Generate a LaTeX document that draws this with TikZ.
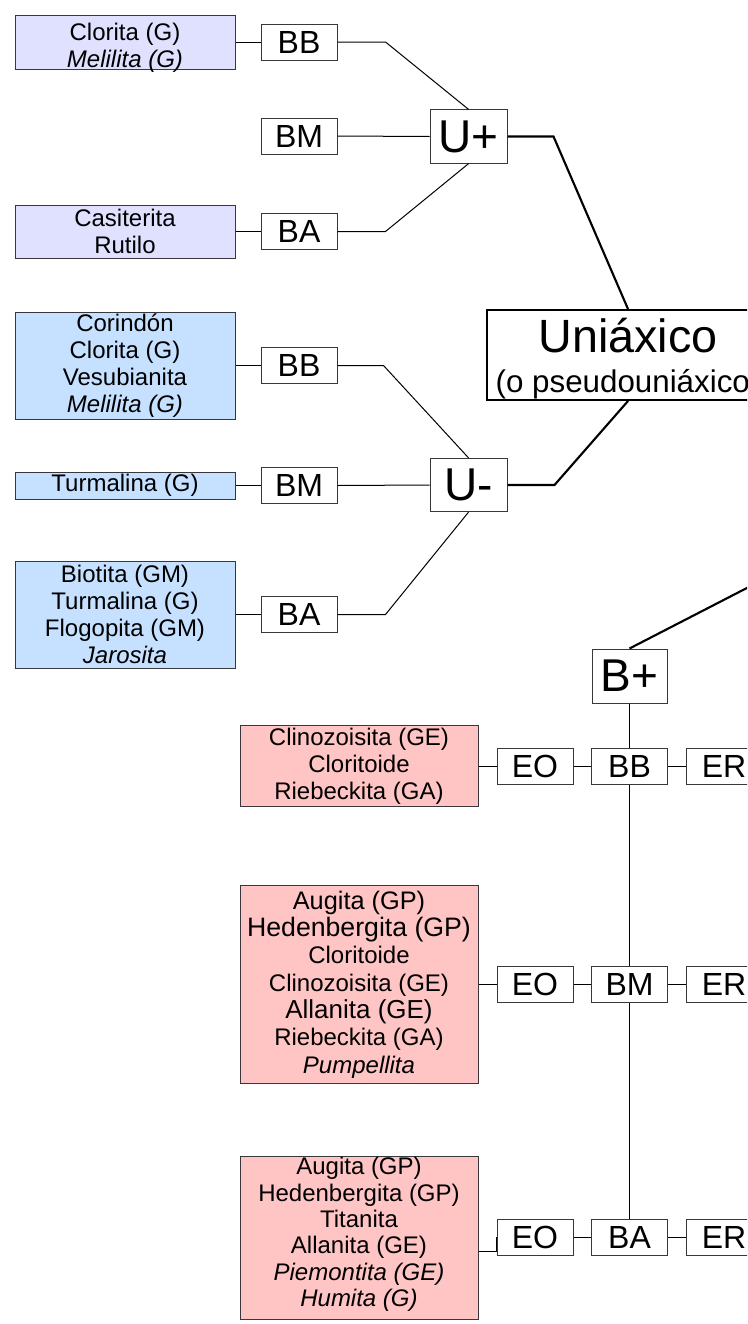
\documentclass[tikz,border=0pt]{standalone}
\usepackage{fontspec}
\setmainfont{Liberation Sans}
\newcommand\myfs[2]{\fontsize{#1}{#2}\selectfont}
\definecolor{lavc}{RGB}{224,224,255}
\definecolor{bluc}{RGB}{198,225,255}
\definecolor{pnkc}{RGB}{255,196,196}
\definecolor{bordc}{RGB}{55,55,60}
\tikzset{
  mbox/.style={draw=bordc, line width=0.75pt, inner sep=0pt, align=center},
  lav/.style={mbox, fill=lavc, minimum width=165pt, font=\myfs{18}{20.25}},
  blu/.style={mbox, fill=bluc, minimum width=165pt, font=\myfs{18}{20.25}},
  pnk/.style={mbox, fill=pnkc, minimum width=178.5pt, font=\myfs{18}{20.25}},
  boxtext/.style={inner sep=0pt, align=center, font=\myfs{18}{20.25}},
  lab/.style={mbox, fill=white, minimum width=57pt, minimum height=27pt, font=\myfs{24}{26}},
  ubox/.style={mbox, fill=white, minimum width=57.75pt, minimum height=40pt, font=\myfs{34.5}{36}},
  unibox/.style={draw=black, line width=1.5pt, fill=white, inner sep=0pt, minimum width=211.5pt, minimum height=67.5pt},
  thinl/.style={draw=black, line width=0.75pt},
  thickl/.style={draw=black, line width=1.6pt}
}
\begin{document}
\begin{tikzpicture}[x=0.75pt,y=-0.75pt]
\useasboundingbox (0,0) rectangle (747,1324);
\clip (0,0) rectangle (747,1324);

% ---- U+ group
\node[lav, minimum height=40.5pt,
  label={[boxtext, name=lav1t, yshift=-4pt]center:{Clorita (G)\\\textit{Melilita (G)}}}] (lav1) at (125,42) {};
\node[lav, minimum height=39.75pt] (lav2) at (125,231.5) {Casiterita\\Rutilo};
\node[lab] (bb1) at (299,42) {BB};
\node[lab] (bm1) at (299,136) {BM};
\node[lab] (ba1) at (299,231.5) {BA};
\node[ubox] (up) at (468.5,136.5) {U+};

% ---- Uniaxico
\node[unibox] (uni) at (628,355) {};
\node[anchor=base, inner sep=0pt, font=\myfs{35}{40}] (unit) at (628,352) {Uniáxico};
\node[anchor=base, inner sep=0pt, font=\myfs{23.5}{26}] (unis) at (628,392) {(o pseudouniáxico)};

% ---- U- group
\node[blu, minimum height=80.25pt] (blu1) at (125,365.5) {Corindón\\Clorita (G)\\Vesubianita\\\textit{Melilita (G)}};
\node[blu, minimum height=20.25pt] (blu2) at (125,485.5) {Turmalina (G)};
\node[blu, minimum height=80.25pt] (blu3) at (125,614.5) {Biotita (GM)\\Turmalina (G)\\Flogopita (GM)\\\textit{Jarosita}};
\node[lab] (bb2) at (299,365.5) {BB};
\node[lab] (bm2) at (299,485.5) {BM};
\node[lab] (ba2) at (299,614.5) {BA};
\node[ubox] (um) at (468.5,485) {U-};

% ---- B+ group
\node[ubox, minimum width=56.25pt, minimum height=40.5pt] (bp) at (629.5,676) {B+};
\coordinate (bi) at (800,560.6);

\node[pnk, minimum height=60.75pt] (pk1) at (359,766) {Clinozoisita (GE)\\Cloritoide\\Riebeckita (GA)};
\node[lab] (eo1) at (535,766) {EO};
\node[lab] (bb3) at (629.5,766) {BB};
\node[lab] (er1) at (724,766) {ER};

\node[pnk, minimum height=148.5pt, font=\myfs{18}{20.5}] (pk2) at (359,984.5)
  {{\myfs{19}{20.5}Augita (GP)}\\{\myfs{20}{20.5}Hedenbergita (GP)}\\Cloritoide\\Clinozoisita (GE)\\{\myfs{19.5}{20.5}Allanita (GE)}\\Riebeckita (GA)\\\textit{Pumpellita}};
\node[lab] (eo2) at (535,984.5) {EO};
\node[lab] (bm3) at (629.5,984.5) {BM};
\node[lab] (er2) at (724,984.5) {ER};

\node[pnk, minimum height=122.25pt,
  label={[boxtext, name=pk3t, yshift=2.2pt, font=\myfs{18}{19.75}]center:{Augita (GP)\\Hedenbergita (GP)\\Titanita\\Allanita (GE)\\\textit{Piemontita (GE)}\\\textit{Humita (G)}}}] (pk3) at (359,1237.5) {};
\node[lab] (eo3) at (535,1237) {EO};
\node[lab] (ba3) at (629.5,1237) {BA};
\node[lab] (er3) at (724,1237) {ER};

% ---- connectors
\draw[thinl] (lav1.east) -- (bb1.west);
\draw[thinl] (lav2.east) -- (ba1.west);
\draw[thinl] (bb1.east) -- ++(48,0) -- (up.north);
\draw[thinl] (bm1.east) -- (up.west);
\draw[thinl] (ba1.east) -- ++(48,0) -- (up.south);
\draw[thickl] (up.east) -- ++(46,0) -- (uni.north);

\draw[thinl] (blu1.east) -- (bb2.west);
\draw[thinl] (blu2.east) -- (bm2.west);
\draw[thinl] (blu3.east) -- (ba2.west);
\draw[thinl] (bb2.east) -- ++(46,0) -- (um.north);
\draw[thinl] (bm2.east) -- (um.west);
\draw[thinl] (ba2.east) -- ++(48,0) -- (um.south);
\draw[thickl] (um.east) -- ++(47,0) -- (uni.south);

\draw[thickl] (bi) -- (bp.north);
\draw[thinl] (bp.south) -- (bb3.north);
\draw[thinl] (bb3.south) -- (bm3.north);
\draw[thinl] (bm3.south) -- (ba3.north);

\draw[thinl] (pk1.east) -- (eo1.west);
\draw[thinl] (eo1.east) -- (bb3.west);
\draw[thinl] (bb3.east) -- (er1.west);
\draw[thinl] (pk2.east) -- (eo2.west);
\draw[thinl] (eo2.east) -- (bm3.west);
\draw[thinl] (bm3.east) -- (er2.west);
\draw[thinl] ([yshift=-10.2pt]pk3.east) -| (eo3.west);
\draw[thinl] (eo3.east) -- (ba3.west);
\draw[thinl] (ba3.east) -- (er3.west);
\end{tikzpicture}
\end{document}
